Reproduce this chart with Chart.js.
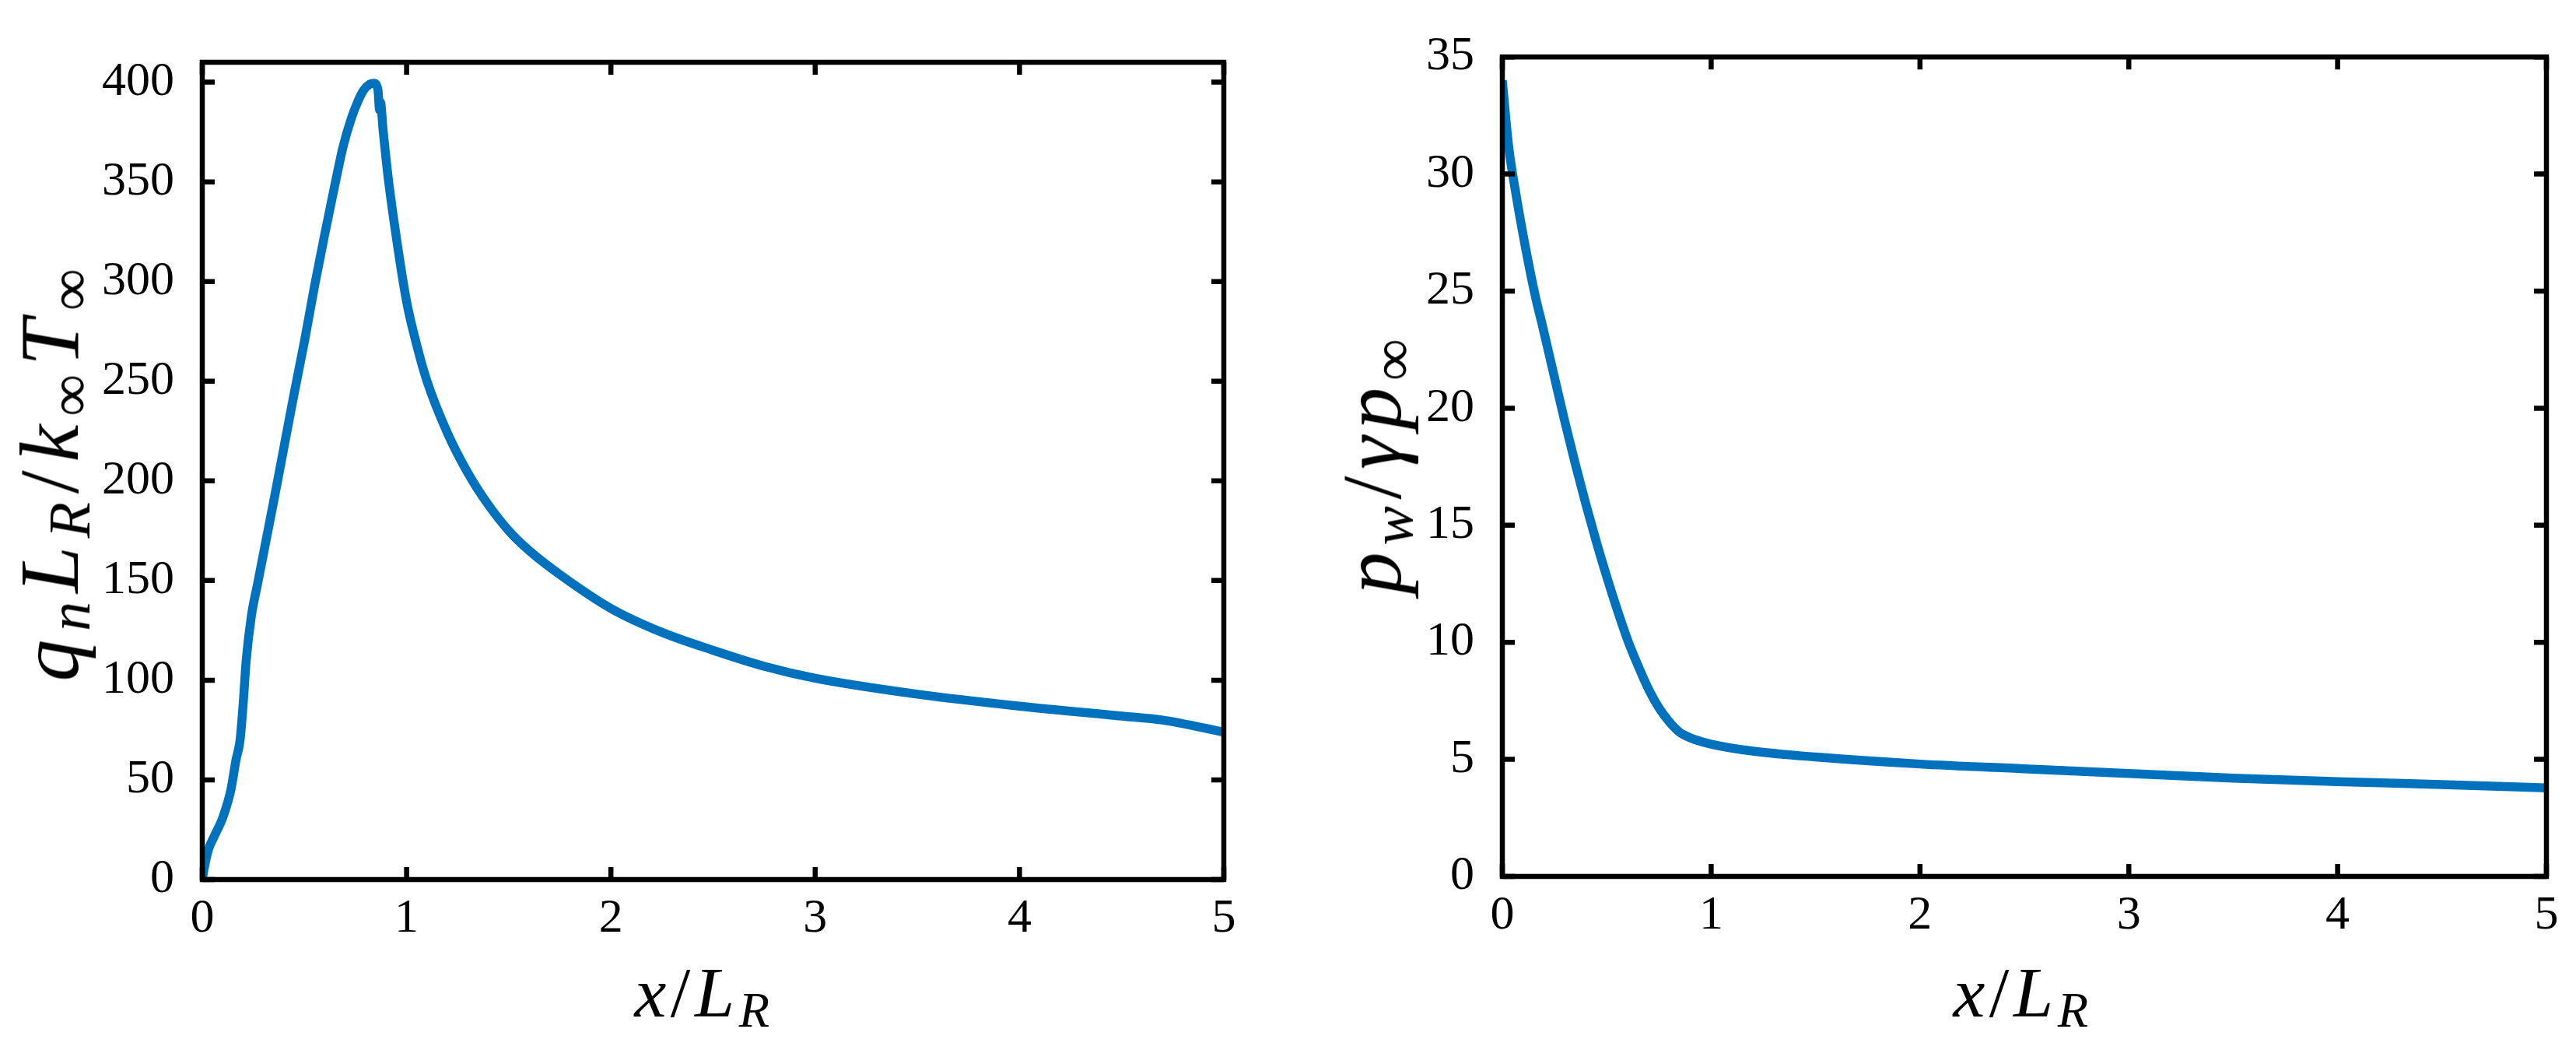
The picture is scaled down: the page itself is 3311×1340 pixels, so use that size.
<!DOCTYPE html>
<html>
<head>
<meta charset="utf-8">
<script src="https://cdn.jsdelivr.net/npm/chart.js@4.4.1/dist/chart.umd.min.js"></script>
<style>
  html, body { margin: 0; padding: 0; background: #fff; }
  #page { position: relative; width: 3311px; height: 1340px; overflow: hidden; background: #fff; }
  canvas { position: absolute; top: 0; }
  .lab { position: absolute; font-family: "Liberation Serif", serif; font-style: italic; color: #000;
         white-space: nowrap; line-height: 1; transform: translate(-50%, -50%); }
  .lab sub { font-size: 70%; vertical-align: baseline; position: relative; top: 0.2em; }
  .up { font-style: normal; }
  .rot { transform: translate(-50%, -50%) rotate(-90deg); }
</style>
</head>
<body>
<div id="page">
  <canvas id="left" width="1700" height="1340" style="left:0"></canvas>
  <canvas id="right" width="1611" height="1340" style="left:1700px"></canvas>

  <div class="lab" style="left:905px;top:1275px;font-size:92px;letter-spacing:0.06em">x<span class="up">/</span>L<sub>R</sub></div>
  <div class="lab" style="left:2600px;top:1275px;font-size:92px;letter-spacing:0.06em">x<span class="up">/</span>L<sub>R</sub></div>
  <div class="lab rot" style="left:64px;top:605px;font-size:108px;letter-spacing:0.1em">q<sub>n</sub>L<sub>R</sub><span class="up">/</span>k<sub class="up">∞</sub>T<sub class="up">∞</sub></div>
  <div class="lab rot" style="left:1764px;top:595px;font-size:108px;letter-spacing:0.08em">p<sub>w</sub><span class="up">/</span>γp<sub class="up">∞</sub></div>
</div>

<script>
// left panel: wall heat flux
var qnX = [0, 0.01, 0.03, 0.06, 0.1, 0.14, 0.165, 0.185, 0.2, 0.215, 0.24, 0.27, 0.31, 0.35, 0.4, 0.45,
           0.5, 0.55, 0.6, 0.65, 0.69, 0.73, 0.76, 0.79, 0.82, 0.84, 0.86, 0.868, 0.872, 0.885,
           0.91, 0.95, 1.0, 1.05, 1.1, 1.2, 1.3, 1.4, 1.5, 1.6, 1.75, 2.0, 2.25, 2.5, 2.75, 3.0, 3.5,
           4.0, 4.5, 4.7, 5.0];
var qnY = [0, 6, 15, 22, 31, 45, 60, 70, 88, 110, 132, 148, 169, 190, 217, 244,
           270, 298, 324, 349, 368, 382, 390, 396, 399, 399.5, 396, 386, 390, 376,
           352, 322, 290, 268, 250, 224, 204, 188, 175, 165, 153, 136, 124, 115, 107, 101, 93,
           87, 82, 80, 74];

// right panel: wall pressure
var pwX = [0, 0.03, 0.066, 0.11, 0.16, 0.19, 0.25, 0.3, 0.35, 0.4, 0.45, 0.5, 0.55, 0.6, 0.65,
           0.7, 0.75, 0.8, 0.85, 0.88, 0.92, 1.0, 1.2, 1.5, 2.0, 2.5, 3.0, 3.5, 4.0, 4.5, 5.0];
var pwY = [34.0, 31.2, 29.1, 26.9, 24.7, 23.6, 21.3, 19.4, 17.6, 15.9, 14.3, 12.8, 11.4, 10.1, 9.0,
           8.0, 7.2, 6.6, 6.15, 6.0, 5.85, 5.65, 5.35, 5.1, 4.8, 4.6, 4.4, 4.2, 4.05, 3.92, 3.78];

var xTicks = [0, 1, 2, 3, 4, 5];
var qnTicks = [0, 50, 100, 150, 200, 250, 300, 350, 400];
var pwTicks = [0, 5, 10, 15, 20, 25, 30, 35];

var blue = '#0072BD';
var tickFont = { family: 'Liberation Serif', size: 62 };

// box round the axes with inward ticks on all four sides
var framePlugin = {
  id: 'frame',
  afterDatasetsDraw: function(chart) {
    var ctx = chart.ctx, a = chart.chartArea;
    var sx = chart.scales.x, sy = chart.scales.y;
    var tl = 16;
    ctx.save();
    ctx.strokeStyle = '#000';
    ctx.lineWidth = 6.5;
    ctx.beginPath();
    sx.ticks.forEach(function(t) {
      var px = sx.getPixelForValue(t.value);
      ctx.moveTo(px, a.bottom); ctx.lineTo(px, a.bottom - tl);
      ctx.moveTo(px, a.top); ctx.lineTo(px, a.top + tl);
    });
    sy.ticks.forEach(function(t) {
      var py = sy.getPixelForValue(t.value);
      ctx.moveTo(a.left, py); ctx.lineTo(a.left + tl, py);
      ctx.moveTo(a.right, py); ctx.lineTo(a.right - tl, py);
    });
    ctx.stroke();
    ctx.lineJoin = 'miter';
    ctx.strokeRect(a.left, a.top, a.right - a.left, a.bottom - a.top);
    ctx.restore();
  }
};

function makeChart(id, xs, ys, yMax, yTicks, box) {
  var pts = xs.map(function(x, i) { return { x: x, y: ys[i] }; });
  return new Chart(document.getElementById(id), {
    type: 'line',
    data: {
      datasets: [{
        data: pts,
        borderColor: blue,
        borderWidth: 11.5,
        pointRadius: 0,
        cubicInterpolationMode: 'monotone',
        fill: false
      }]
    },
    options: {
      responsive: false,
      animation: false,
      events: [],
      layout: { padding: { left: 0, top: box.top, right: box.right, bottom: 0 } },
      plugins: { legend: { display: false }, tooltip: { enabled: false } },
      scales: {
        x: {
          type: 'linear', min: 0, max: 5,
          grid: { display: false, drawTicks: false },
          border: { display: false },
          afterBuildTicks: function(s) { s.ticks = xTicks.map(function(v) { return { value: v }; }); },
          afterFit: function(s) { s.height = box.xh; },
          ticks: { color: '#000', font: tickFont, padding: 14, maxRotation: 0 }
        },
        y: {
          type: 'linear', min: 0, max: yMax,
          grid: { display: false, drawTicks: false },
          border: { display: false },
          afterBuildTicks: function(s) { s.ticks = yTicks.map(function(v) { return { value: v }; }); },
          afterFit: function(s) { s.width = box.yw; },
          ticks: { color: '#000', font: tickFont, padding: 36 }
        }
      }
    },
    plugins: [framePlugin]
  });
}

makeChart('left', qnX, qnY, 410, qnTicks, { top: 80, right: 127, xh: 210, yw: 260 });
makeChart('right', pwX, pwY, 35, pwTicks, { top: 50, right: 38, xh: 214, yw: 231 });
</script>
</body>
</html>
